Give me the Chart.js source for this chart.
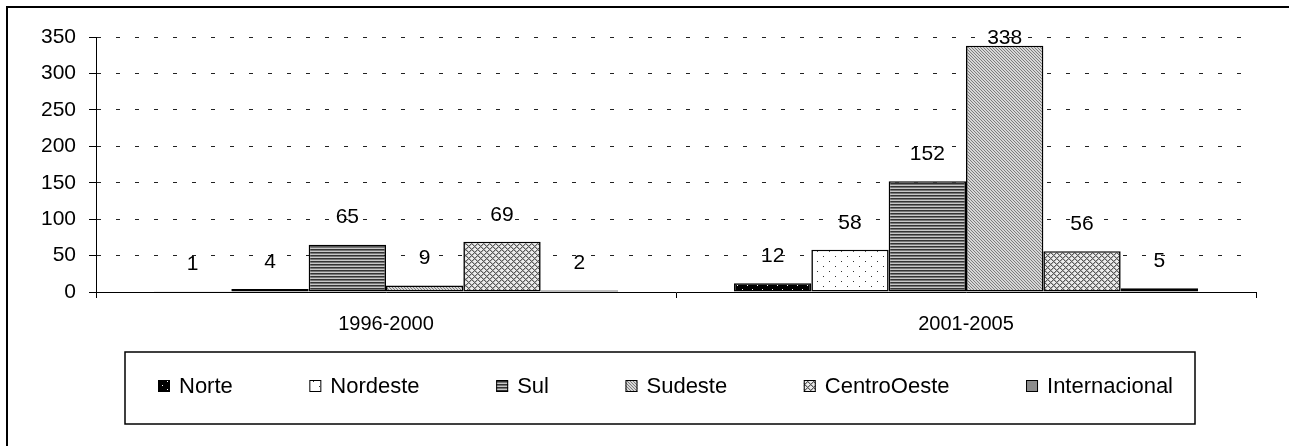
<!DOCTYPE html>
<html><head><meta charset="utf-8">
<script src="https://cdn.jsdelivr.net/npm/chart.js@4.4.1/dist/chart.umd.min.js"></script>
<style>html,body{margin:0;padding:0;background:#fff;}#wrap{width:1289px;height:446px;position:relative}canvas{display:block}</style>
</head><body><div id="wrap"><canvas id="c" width="1289" height="446" style="width:1289px;height:446px"></canvas></div>
<script>
// ---- data ----
const categories = ['1996-2000', '2001-2005'];
const seriesNames = ['Norte', 'Nordeste', 'Sul', 'Sudeste', 'CentroOeste', 'Internacional'];
const norte = [1, 12];
const nordeste = [4, 58];
const sul = [65, 152];
const sudeste = [9, 338];
const centroOeste = [69, 56];
const internacional = [2, 5];
const yMin = 0, yMax = 350, yStep = 50;

// ---- patterns ----
function pat(w, h, bg, draw) {
  const c = document.createElement('canvas'); c.width = w; c.height = h;
  const g = c.getContext('2d'); g.fillStyle = bg; g.fillRect(0, 0, w, h);
  draw(g); return g.createPattern(c, 'repeat');
}
function px(g, x, y, col) { g.fillStyle = col; g.fillRect(x, y, 1, 1); }
const fills = [
  pat(10, 8, '#000', g => { px(g, 2, 1, '#fff'); px(g, 7, 5, '#fff'); }),
  pat(12, 10, '#fff', g => { px(g, 1, 1, '#333'); px(g, 7, 6, '#333'); }),
  pat(1, 3, '#333', g => { px(g, 0, 1, '#777'); px(g, 0, 2, '#c8c8c8'); }),
  pat(3, 3, '#d6d6d6', g => { for (let x = 0; x < 3; x++) for (let y = 0; y < 3; y++) { if ((x - y + 3) % 3 === 0) px(g, x, y, '#7c7c7c'); } }),
  pat(6, 6, '#ececec', g => { for (let x = 0; x < 6; x++) for (let y = 0; y < 6; y++) { if ((x + y) % 6 === 0 || (x - y + 6) % 6 === 0) px(g, x, y, '#5a5a5a'); else if ((x + y) % 6 === 1 || (x - y + 6) % 6 === 1) px(g, x, y, '#b0b0b0'); } }),
  '#8c8c8c'
];
const seriesData = [norte, nordeste, sul, sudeste, centroOeste, internacional];

const FONT = 'Liberation Sans, Arial, sans-serif';
const FS = 21;

const framePlugin = {
  id: 'frame',
  beforeDraw(chart) {
    const ctx = chart.ctx; ctx.save();
    ctx.fillStyle = '#fff'; ctx.fillRect(0, 0, chart.width, chart.height);
    ctx.lineWidth = 2; ctx.strokeStyle = '#000';
    ctx.strokeRect(7, 7, chart.width + 50, chart.height + 50);
    ctx.restore();
  }
};

const labelPlugin = {
  id: 'vlabels',
  afterDatasetsDraw(chart) {
    const ctx = chart.ctx; ctx.save();
    ctx.font = FS + 'px ' + FONT; ctx.fillStyle = '#000';
    ctx.textAlign = 'center'; ctx.textBaseline = 'middle';
    chart.data.datasets.forEach((ds, i) => {
      chart.getDatasetMeta(i).data.forEach((bar, j) => {
        const y = Math.max(bar.y - 27, chart.chartArea.top + 1);
        ctx.fillText(String(ds.data[j]), bar.x, y);
      });
    });
    ctx.restore();
  }
};

const legendPlugin = {
  id: 'customLegend',
  afterDraw(chart) {
    const ctx = chart.ctx; ctx.save();
    const box = {l: 125, t: 352, r: 1195, b: 424};
    ctx.lineWidth = 1.5; ctx.strokeStyle = '#000';
    ctx.strokeRect(box.l, box.t, box.r - box.l, box.b - box.t);
    ctx.font = '22px ' + FONT;
    const sq = 12, gapText = 9;
    const startX = 158, endX = 1173;
    const items = chart.data.datasets.map(ds => ({label: ds.label, fill: ds.backgroundColor, w: sq + gapText + ctx.measureText(ds.label).width}));
    const sumW = items.reduce((s, it) => s + it.w, 0);
    const gapItem = (endX - startX - sumW) / (items.length - 1);
    let x = startX;
    const cy = 386;
    ctx.textBaseline = 'middle'; ctx.textAlign = 'left';
    items.forEach(it => {
      ctx.fillStyle = it.fill; ctx.fillRect(x, cy - sq / 2, sq, sq);
      ctx.lineWidth = 1; ctx.strokeStyle = '#000'; ctx.strokeRect(x + 0.5, cy - sq / 2 + 0.5, sq - 1, sq - 1);
      ctx.fillStyle = '#000'; ctx.fillText(it.label, x + sq + gapText, cy + 1);
      x += it.w + gapItem;
    });
    ctx.restore();
  }
};

new Chart(document.getElementById('c'), {
  type: 'bar',
  data: {
    labels: categories,
    datasets: seriesNames.map((n, i) => ({
      label: n, data: seriesData[i], backgroundColor: fills[i],
      borderColor: '#000', borderWidth: 1.6, borderSkipped: false,
      categoryPercentage: 0.8, barPercentage: 1.0
    }))
  },
  options: {
    responsive: false, animation: false,
    layout: {padding: {left: 16, right: 33, top: 37, bottom: 104}},
    plugins: {legend: {display: false}, tooltip: {enabled: false}},
    scales: {
      x: {
        afterFit: s => { s.height = 50; },
        grid: {drawOnChartArea: false, drawTicks: true, tickLength: 6, tickColor: '#000'},
        border: {display: true, color: '#000', width: 1},
        ticks: {color: '#000', font: {family: FONT, size: FS - 1}, padding: 14}
      },
      y: {
        min: yMin, max: yMax,
        afterFit: s => { s.width = 80; },
        grid: {color: ctx => ctx.tick && ctx.tick.value === 0 ? 'rgba(0,0,0,0)' : '#222', lineWidth: 1, drawTicks: true, tickLength: 7, tickColor: '#000'},
        border: {display: true, color: '#000', width: 1, dash: [4, 15]},
        ticks: {stepSize: yStep, color: '#000', font: {family: FONT, size: FS}, padding: 13}
      }
    }
  },
  plugins: [framePlugin, labelPlugin, legendPlugin]
});
</script></body></html>
